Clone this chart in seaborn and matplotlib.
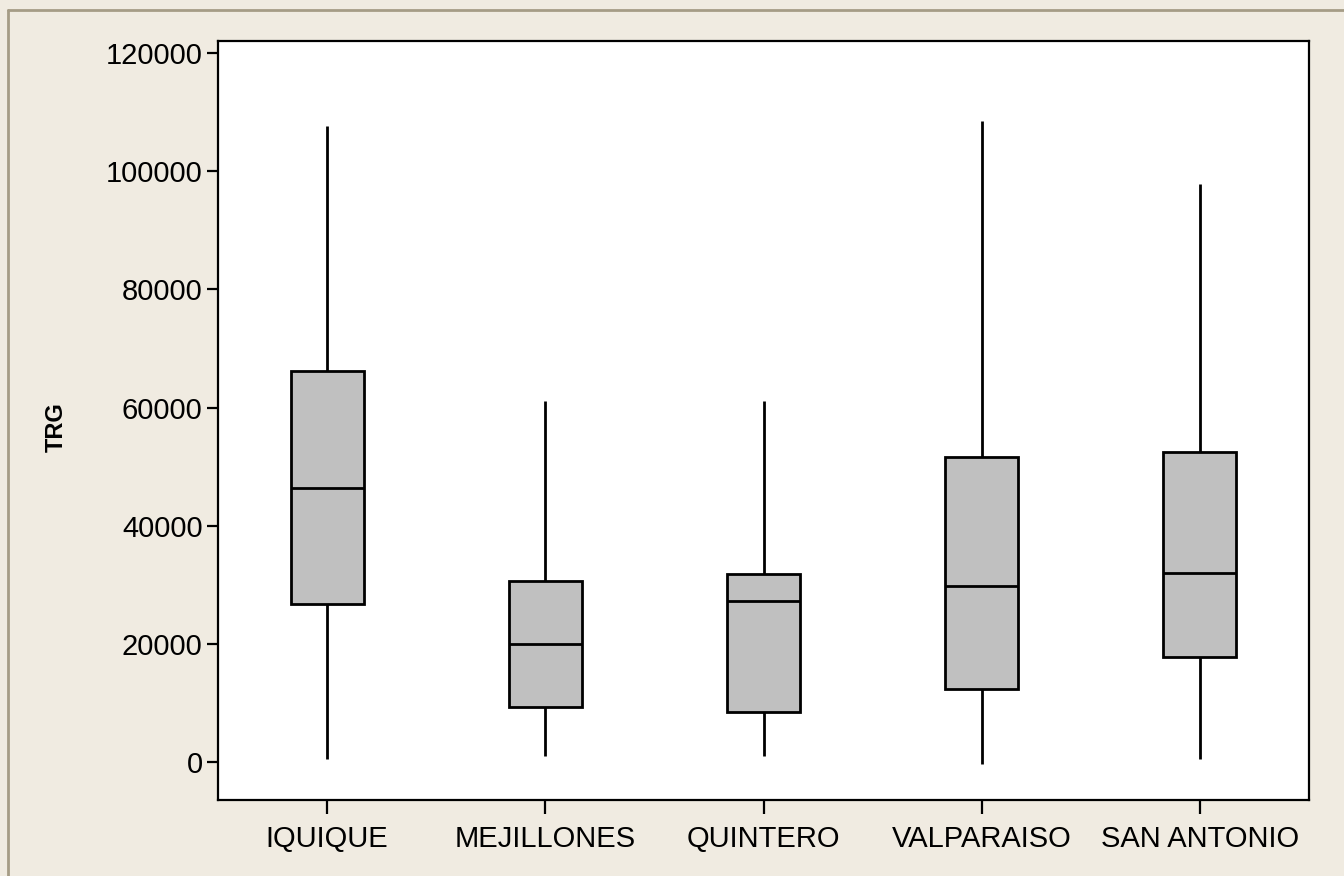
import matplotlib
matplotlib.use("Agg")
import matplotlib.pyplot as plt
import seaborn as sns
import pandas as pd
from matplotlib.lines import Line2D

# Five-number summaries (min, Q1, median, Q3, max)
ports = ["IQUIQUE", "MEJILLONES", "QUINTERO", "VALPARAISO", "SAN ANTONIO"]
mins    = [500,    1000,  1000,  -300,   500]
q1s     = [26740,  9310,  8460,  12360,  17770]
medians = [46380,  19970, 27250, 29790,  31990]
q3s     = [66180,  30640, 31820, 51620,  52470]
maxs    = [107650, 61100, 61100, 108500, 97830]
yticks = [0, 20000, 40000, 60000, 80000, 100000, 120000]

rows = []
for p, a, b, c, d, e in zip(ports, mins, q1s, medians, q3s, maxs):
    for v in (a, b, c, d, e):
        rows.append({"port": p, "TRG": v})
df = pd.DataFrame(rows)

sns.set_theme(style="white")
plt.rcParams["font.family"] = ["Liberation Sans", "DejaVu Sans"]

bg = "#F0EBE1"
fig = plt.figure(figsize=(13.44, 8.76), dpi=100, facecolor=bg)
ax = fig.add_axes([218/1344, 76/876, (1309-218)/1344, (800-41)/876])
ax.set_facecolor("white")

sns.boxplot(data=df, x="port", y="TRG", order=ports, whis=(0, 100),
            width=0.335, color="#C0C0C0", saturation=1, linewidth=2,
            linecolor="black", showcaps=False, fliersize=0, ax=ax,
            boxprops=dict(facecolor="#C0C0C0", edgecolor="black"),
            medianprops=dict(color="black", linewidth=2),
            whiskerprops=dict(color="black", linewidth=2))

ax.set_xlim(-0.5, 4.5)
ax.set_ylim(-6430, 122030)
ax.set_yticks(yticks)
ax.set_yticklabels([str(t) for t in yticks])
ax.set_xlabel("")
ax.set_ylabel("")
fig.text(56/1344, 1 - 427/876, "TRG", rotation=90, ha="center", va="center",
         fontsize=17, fontweight="bold", color="black")
ax.tick_params(axis="y", which="major", direction="out", length=8, width=1.6,
               color="black", labelsize=21, pad=3, left=True)
ax.tick_params(axis="x", which="major", direction="out", length=10, width=1.6,
               color="black", labelsize=21, pad=8, bottom=True)
for lab in ax.get_xticklabels() + ax.get_yticklabels():
    lab.set_color("black")
for s in ax.spines.values():
    s.set_visible(True)
    s.set_color("black")
    s.set_linewidth(1.6)

# outer frame lines (left and top)
fig.add_artist(Line2D([8/1344, 8/1344], [0, 1 - 10/876], transform=fig.transFigure,
                      color="#A59C86", linewidth=2))
fig.add_artist(Line2D([8/1344, 1], [1 - 10/876, 1 - 10/876], transform=fig.transFigure,
                      color="#A59C86", linewidth=2))

fig.savefig("out.png", dpi=100, facecolor=bg)
